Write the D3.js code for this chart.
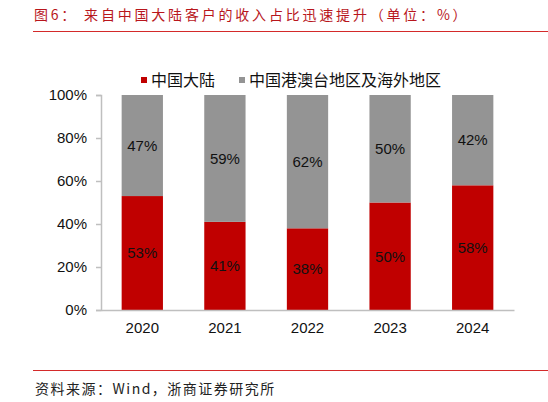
<!DOCTYPE html>
<html>
<head>
<meta charset="utf-8">
<script src="https://cdn.jsdelivr.net/npm/d3@7"></script>
<style>
  html, body { margin: 0; padding: 0; background: #fff; }
  svg { display: block; }
</style>
</head>
<body>
<div id="chart"></div>
<script>
const years = ["2020", "2021", "2022", "2023", "2024"];
const seriesNames = ["中国大陆", "中国港澳台地区及海外地区"];
const mainland = [53, 41, 38, 50, 58];
const overseas = [47, 59, 62, 50, 42];
const yTicks = [0, 20, 40, 60, 80, 100];

const titleText = "图6：  来自中国大陆客户的收入占比迅速提升（单位：%）";
const sourceText = "资料来源：Wind，浙商证券研究所";

const W = 548, H = 402;
const colors = ["#c00000", "#949494"];
const cjk = "'Noto Sans CJK SC', 'Noto Sans', sans-serif";
const latin = "'Liberation Sans', Arial, sans-serif";

const svg = d3.select("#chart")
    .append("svg")
    .attr("width", W)
    .attr("height", H);

// title + rule
svg.append("text")
    .attr("x", 34)
    .attr("y", 20)
    .attr("fill", "#b8161c")
    .style("font-family", cjk)
    .style("font-size", "14px")
    .style("letter-spacing", "2.8px")
    .text(titleText);

svg.append("line")
    .attr("x1", 33).attr("x2", W)
    .attr("y1", 31.5).attr("y2", 31.5)
    .attr("stroke", "#d42a2a")
    .attr("stroke-width", 1);

// footer
svg.append("line")
    .attr("x1", 33).attr("x2", W)
    .attr("y1", 370.5).attr("y2", 370.5)
    .attr("stroke", "#d42a2a")
    .attr("stroke-width", 1);

svg.append("text")
    .attr("x", 35)
    .attr("y", 394)
    .attr("fill", "#222")
    .style("font-family", cjk)
    .style("font-size", "14px")
    .style("letter-spacing", "1.5px")
    .text(sourceText);

// data table for stacking
const table = years.map((y, i) => ({ year: y, a: mainland[i], b: overseas[i] }));
const stacked = d3.stack().keys(["a", "b"])(table);

const x = d3.scaleBand()
    .domain(years)
    .range([101, 514])
    .paddingInner(0.5)
    .paddingOuter(0.25);

const y = d3.scaleLinear()
    .domain([0, 100])
    .range([310, 95]);

// bars
const layers = svg.append("g")
    .selectAll("g")
    .data(stacked)
    .join("g")
    .attr("fill", (d, i) => colors[i]);

layers.selectAll("rect")
    .data(d => d)
    .join("rect")
    .attr("x", d => x(d.data.year))
    .attr("width", x.bandwidth())
    .attr("y", d => y(d[1]))
    .attr("height", d => y(d[0]) - y(d[1]));

// value labels
layers.selectAll("text")
    .data(d => d)
    .join("text")
    .attr("x", d => x(d.data.year) + x.bandwidth() / 2)
    .attr("y", d => (y(d[0]) + y(d[1])) / 2)
    .attr("dy", "0.35em")
    .attr("text-anchor", "middle")
    .attr("fill", "#111")
    .style("font-family", latin)
    .style("font-size", "15px")
    .text(d => (d[1] - d[0]) + "%");

// y axis
const axisL = d3.axisLeft(y)
    .tickValues(yTicks)
    .tickSize(5)
    .tickPadding(9)
    .tickFormat(d => d + "%");

svg.append("g")
    .attr("transform", "translate(101,0)")
    .call(axisL)
    .call(g => g.select(".domain").attr("stroke", "#bfbfbf").attr("stroke-width", 1.5))
    .call(g => g.selectAll(".tick line").attr("stroke", "#bfbfbf").attr("stroke-width", 1.5))
    .call(g => g.selectAll(".tick text")
        .attr("fill", "#111")
        .style("font-family", latin)
        .style("font-size", "15px"));

// x axis
const axisB = d3.axisBottom(x)
    .tickSize(0)
    .tickPadding(12)
    .tickSizeOuter(0);

svg.append("g")
    .attr("transform", "translate(0,310)")
    .call(axisB)
    .call(g => g.select(".domain").attr("stroke", "#bfbfbf").attr("stroke-width", 1.5))
    .call(g => g.selectAll(".tick text")
        .attr("fill", "#111")
        .style("font-family", latin)
        .style("font-size", "15px"));

// legend
const legendX = [141, 239];
const legend = svg.append("g")
    .selectAll("g")
    .data(seriesNames)
    .join("g")
    .attr("transform", (d, i) => `translate(${legendX[i]},80)`);

legend.append("rect")
    .attr("x", 0).attr("y", -3)
    .attr("width", 6).attr("height", 6)
    .attr("fill", (d, i) => colors[i]);

legend.append("text")
    .attr("x", 10)
    .attr("y", 0)
    .attr("dy", "0.36em")
    .attr("fill", "#111")
    .style("font-family", cjk)
    .style("font-size", "16px")
    .text(d => d);
</script>
</body>
</html>
